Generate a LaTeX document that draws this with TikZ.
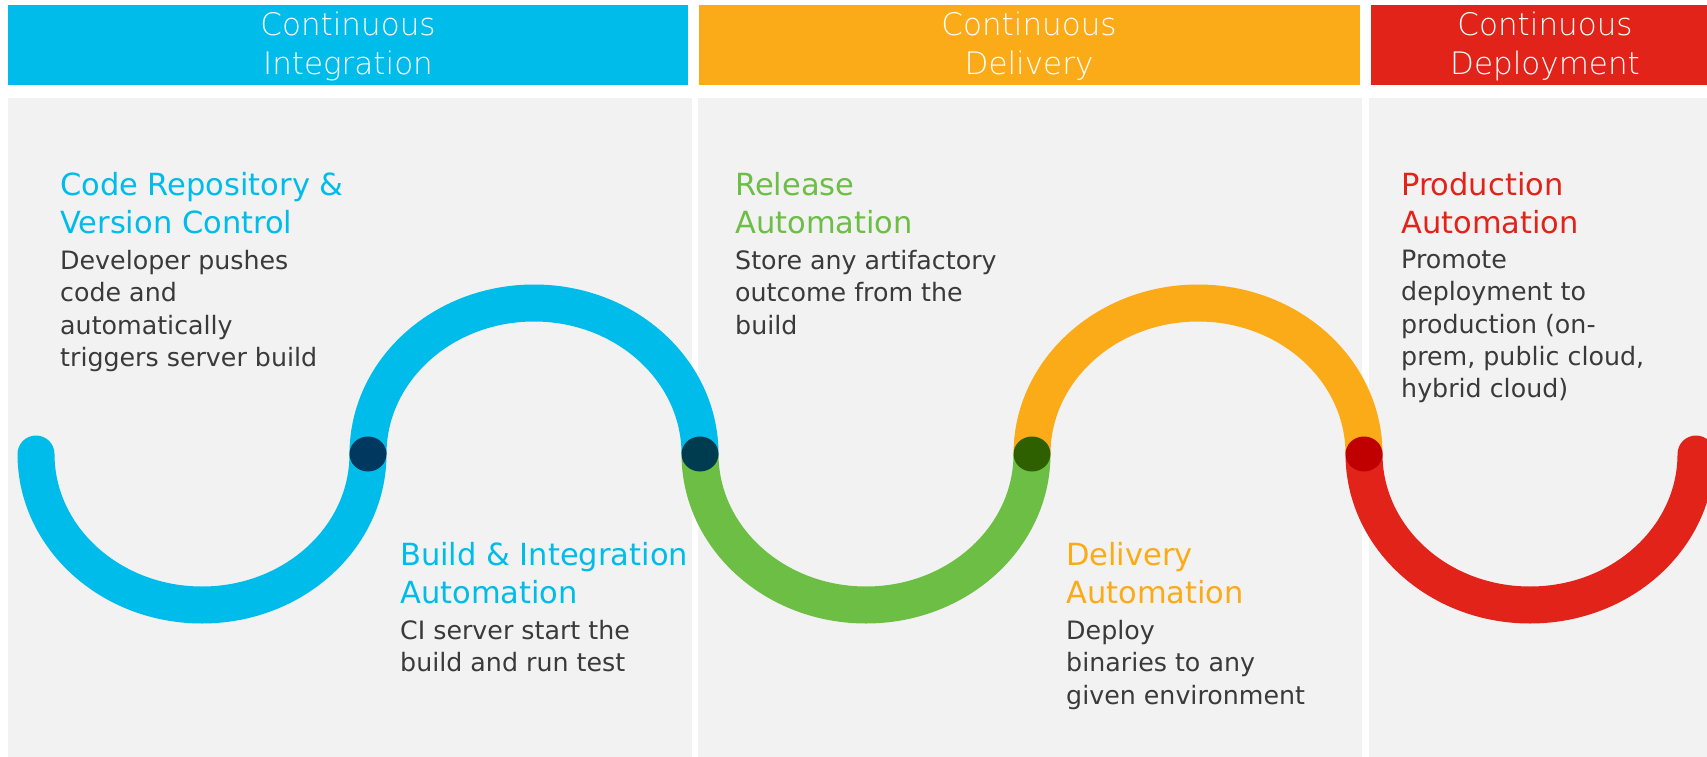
\documentclass[tikz,border=0pt]{standalone}
\usepackage{fontspec}
\setmainfont{DejaVu Sans}
\newfontfamily\headfont{DejaVu Sans ExtraLight}
\usepackage{tikz}

\definecolor{ciblue}{HTML}{00BCEB}
\definecolor{cdorange}{HTML}{FBAB18}
\definecolor{cdred}{HTML}{E2231A}
\definecolor{relgreen}{HTML}{6DBE45}
\definecolor{panelgrey}{HTML}{F2F2F2}
\definecolor{bodygrey}{HTML}{3A3A3A}
\definecolor{dotnavy}{HTML}{00385F}
\definecolor{dotteal}{HTML}{003C50}
\definecolor{dotgreen}{HTML}{2E6000}
\definecolor{dotred}{HTML}{C00000}

\begin{document}
\begin{tikzpicture}[x=1pt, y=-1pt,
    header/.style={text=white, align=center, inner sep=0pt, font=\headfont\fontsize{31}{39}\selectfont},
    title/.style={anchor=north west, inner sep=0pt, align=left, font=\fontsize{30.5}{38}\selectfont},
    body/.style={anchor=north west, inner sep=0pt, align=left, text=bodygrey, font=\fontsize{25.3}{32.3}\selectfont},
    wave/.style={line width=37pt},
    joint/.style={x radius=18.5, y radius=17.5}]
    \fill[white] (0,0) rectangle (1707,757);
    \useasboundingbox (0,0) rectangle (1707,757);
    % stage bars
    \fill[ciblue] (8,5) rectangle (688,85);
    \fill[cdorange] (699,5) rectangle (1360,85);
    \fill[cdred] (1371,5) rectangle (1707,85);
    \node[header] (ci) at (348,46) {Continuous\\Integration};
    \node[header] (cd) at (1029,46) {Continuous\\Delivery};
    \node[header] (cdep) at (1545,46) {Continuous\\Deployment};
    % panels
    \fill[panelgrey] (8,98) rectangle (692,757);
    \fill[panelgrey] (698,98) rectangle (1362,757);
    \fill[panelgrey] (1369,98) rectangle (1707,757);
    % wave
    \draw[wave, ciblue, line cap=round] (36,454) arc[start angle=180, end angle=0, x radius=166, y radius=151];
    \draw[wave, cdred, line cap=round] (1364,454) arc[start angle=180, end angle=0, x radius=166, y radius=151];
    \draw[wave, ciblue] (368,454) arc[start angle=180, end angle=360, x radius=166, y radius=151];
    \draw[wave, relgreen] (700,454) arc[start angle=180, end angle=0, x radius=166, y radius=151];
    \draw[wave, cdorange] (1032,454) arc[start angle=180, end angle=360, x radius=166, y radius=151];
    \fill[dotnavy] (368,454) ellipse[joint];
    \fill[dotteal] (700,454) ellipse[joint];
    \fill[dotgreen] (1032,454) ellipse[joint];
    \fill[dotred] (1364,454) ellipse[joint];
    % steps
    \node[title, text=ciblue] (repo) at (60,172) {Code Repository \&\\Version Control};
    \node[body] (repotxt) at (60,250) {Developer pushes\\code and\\automatically\\triggers server build};
    \node[title, text=ciblue] (build) at (400,542) {Build \& Integration\\Automation};
    \node[body] (buildtxt) at (400,620) {CI server start the\\build and run test};
    \node[title, text=relgreen] (release) at (735,172) {Release\\Automation};
    \node[body] (releasetxt) at (735,250) {Store any artifactory\\outcome from the\\build};
    \node[title, text=cdorange] (delivery) at (1066,542) {Delivery\\Automation};
    \node[body] (deliverytxt) at (1066,620) {Deploy\\binaries to any\\given environment};
    \node[title, text=cdred] (prod) at (1401,172) {Production\\Automation};
    \node[body] (prodtxt) at (1401,250) {Promote\\deployment to\\production (on-\\prem, public cloud,\\hybrid cloud)};
\end{tikzpicture}
\end{document}
